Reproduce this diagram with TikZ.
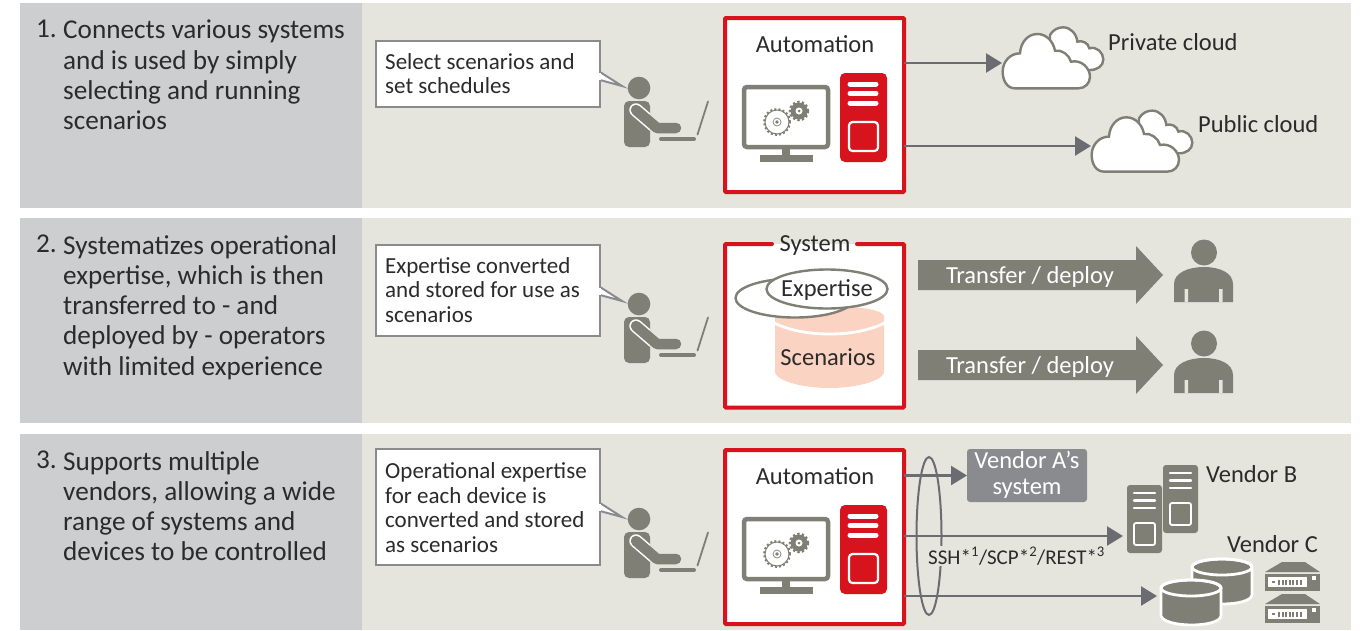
\documentclass[tikz,border=0pt]{standalone}
\usepackage{fontspec}
\setmainfont{Carlito}
\usetikzlibrary{arrows.meta}
\definecolor{leftbg}{HTML}{CDCED0}
\definecolor{rightbg}{HTML}{E5E4DD}
\definecolor{gr}{HTML}{7F7F75}
\definecolor{redb}{HTML}{D7141E}
\definecolor{arr}{HTML}{6A6C72}
\definecolor{calln}{HTML}{8A8B8E}
\definecolor{salmon}{HTML}{FBD3C2}
\definecolor{txt}{HTML}{2B2B2B}
\newcommand\fsz[2]{\fontsize{#1pt}{#2pt}\selectfont}
\tikzset{
  headtext/.style={anchor=north west,align=left,inner sep=0pt,text=txt,font=\fsz{27.2}{30.3}},
  calltext/.style={anchor=west,align=left,inner sep=0pt,text=txt,font=\fsz{23}{24.8}},
  callbox/.style={draw=calln,line width=2pt,fill=white,inner sep=0pt,outer sep=0pt,minimum width=224pt},
  redbox/.style={draw=redb,line width=4pt,fill=white,rounded corners=1pt,inner sep=0pt,outer sep=0pt,minimum width=179pt},
  lab/.style={inner sep=0pt,text=txt,font=\fsz{24.5}{26}},
  conn/.style={draw=arr,line width=2.4pt,-{Triangle[length=16pt,width=19pt,fill=arr]}},
  cloudline/.style={draw=gr,line width=2.4pt,fill=white},
  wtext/.style={inner sep=0pt,text=white,font=\fsz{24.5}{26}},
}
\newcommand\person[1]{\begin{scope}[shift={(0,#1)}]
  \fill[gr] (639,88) circle[radius=11.3pt];
  \fill[gr,rounded corners=5pt] (624,147) -- (624,101) -- (650,101) -- (650,147) -- cycle;
  \begin{scope}
    \clip (624,101) rectangle (650,147);
    \draw[white,line width=13.5pt,line cap=round,line join=round] (636,110) -- (657,128) -- (676,128);
  \end{scope}
  \draw[gr,line width=10.5pt,line cap=round,line join=round] (636,110) -- (657,128) -- (676,128);
  \draw[gr,line width=4pt,line cap=round] (661,139) -- (694,139);
  \draw[gr,line width=1.8pt,line cap=round] (697.5,134.5) -- (708,101.5);
\end{scope}}
\newcommand\automation[1]{\begin{scope}[shift={(0,#1)}]
  \draw[gr,line width=4.5pt,rounded corners=3pt] (744,87) rectangle (828,147);
  \fill[gr] (782,149) rectangle (790,156);
  \fill[gr] (760,155) rectangle (813,162);
  \draw[gr,line width=2pt,dash pattern=on 2pt off 2.2pt] (777,122) circle[radius=13pt];
  \draw[gr,line width=1pt] (777,122) circle[radius=12pt];
  \draw[gr,line width=.7pt] (777,122) circle[radius=4pt];
  \fill[gr] (777,122) circle[radius=1.8pt];
  \draw[gr,line width=2.5pt,dash pattern=on 2.3pt off 2.2pt] (799,111) circle[radius=9pt];
  \fill[gr] (799,111) circle[radius=8.5pt];
  \fill[white] (799,111) circle[radius=3.5pt];
  \fill[gr] (799,111) circle[radius=1.5pt];
  \fill[redb,rounded corners=5pt] (840,73) rectangle (887,162);
  \draw[white,line width=5pt,line cap=round] (850,84) -- (876,84) (850,93.5) -- (876,93.5) (850,103) -- (876,103);
  \draw[white,line width=2.2pt,rounded corners=3.5pt] (849,122) rectangle (878,151);
\end{scope}}
\newcommand\cloudpair[2]{\begin{scope}[shift={(#1,#2)},x=.3333pt,y=-.3333pt]
  \path[cloudline] (180,45) .. controls (190,28) and (205,22) .. (220,22) .. controls (242,22) and (260,42) .. (262,65) .. controls (275,60) and (295,68) .. (298,85) .. controls (320,78) and (340,98) .. (340,118) .. controls (340,138) and (322,150) .. (300,150) -- (180,150) -- cycle;
  \path[cloudline] (75,205) .. controls (50,205) and (38,180) .. (38,155) .. controls (38,125) and (60,100) .. (90,100) .. controls (92,65) and (115,42) .. (142,42) .. controls (170,42) and (190,65) .. (195,92) .. controls (215,88) and (238,105) .. (243,125) .. controls (275,118) and (300,145) .. (300,170) .. controls (300,190) and (285,205) .. (265,205) -- cycle;
\end{scope}}
\newcommand\bigarr[1]{\begin{scope}[shift={(0,#1)}]
  \fill[gr] (918,260) -- (1136,260) -- (1136,246) -- (1163,275) -- (1136,304) -- (1136,290) -- (918,290) -- cycle;
\end{scope}}
\newcommand\bust[1]{\begin{scope}[shift={(0,#1)}]
  \fill[gr] (1204,252.5) circle[radius=13pt];
  \fill[gr] (1174,302) -- (1174,284) .. controls (1174,273) and (1188,267) .. (1204,267) .. controls (1220,267) and (1233,273) .. (1233,284) -- (1233,302) -- cycle;
  \fill[rightbg] (1184.5,289) rectangle (1188,302) (1219,289) rectangle (1222.5,302);
\end{scope}}
\newcommand\srv[2]{\begin{scope}[shift={(#1,#2)}]
  \fill[gr,rounded corners=3pt] (0,0) rectangle (35,68);
  \draw[white,line width=2.3pt,line cap=round] (7,8) -- (28,8) (7,15.5) -- (28,15.5) (7,23) -- (28,23);
  \draw[white,line width=1.8pt,rounded corners=2pt] (7,38) rectangle (28,60);
\end{scope}}
\newcommand\disk[2]{\begin{scope}[shift={(#1,#2)}]
  \path[fill=gr,draw=white,line width=2.8pt] (0,8) -- (0,36) .. controls (4,48) and (58,48) .. (60,36) -- (60,8) arc[start angle=0,end angle=180,x radius=30pt,y radius=8pt];
  \draw[white,line width=2.8pt] (30,8) ellipse[x radius=30pt,y radius=8pt];
\end{scope}}
\newcommand\rackunit[2]{\begin{scope}[shift={(#1,#2)}]
  \fill[gr] (0,10) -- (17,0) -- (40,0) -- (55,10) -- cycle;
  \fill[gr] (0,11.5) rectangle (55,29);
  \fill[white] (3,15) rectangle (42,25);
  \fill[gr] (7,18.5) rectangle (10,21);
  \foreach \k in {0,...,6}{\fill[gr] (13+\k*3.6,17.5) rectangle (15+\k*3.6,23);}
  \fill[white] (47,14) rectangle (51,18);
\end{scope}}
\begin{document}
\begin{tikzpicture}[x=1pt,y=-1pt]
\useasboundingbox (0,0) rectangle (1366,630);
% panels
\fill[leftbg] (20,3) rectangle (362,208);
\fill[rightbg] (362,3) rectangle (1351,208);
\fill[leftbg] (20,218) rectangle (362,423);
\fill[rightbg] (362,218) rectangle (1351,423);
\fill[leftbg] (20,434) rectangle (362,630);
\fill[rightbg] (362,434) rectangle (1351,630);
% left headings
\node[headtext] (n1) at (36,20) {1.};
\node[headtext] (h1) at (63,20) {Connects various systems\\and is used by simply\\selecting and running\\scenarios};
\node[headtext] (n2) at (36,235) {2.};
\node[headtext] (h2) at (63,235) {Systematizes operational\\expertise, which is then\\transferred to - and\\deployed by - operators\\with limited experience};
\node[headtext] (n3) at (36,451) {3.};
\node[headtext] (h3) at (63,451) {Supports multiple\\vendors, allowing a wide\\range of systems and\\devices to be controlled};
% callouts
\node[callbox,minimum height=66pt] (c1) at (488,73.5) {};
\path[fill=white,draw=calln,line width=2pt,line join=miter] (600,72) -- (622,86) -- (600,80);
\fill[white] (598,72.5) rectangle (601,79.5);
\node[calltext] (c1t) at (385,73.5) {Select scenarios and\\set schedules};
\node[callbox,minimum height=91pt] (c2) at (488,290) {};
\path[fill=white,draw=calln,line width=2pt] (600,287) -- (622,301) -- (600,295);
\fill[white] (598,287.5) rectangle (601,294.5);
\node[calltext] (c2t) at (385,290) {Expertise converted\\and stored for use as\\scenarios};
\node[callbox,minimum height=116pt] (c3) at (488,507) {};
\path[fill=white,draw=calln,line width=2pt] (600,503) -- (622,517) -- (600,511);
\fill[white] (598,503.5) rectangle (601,510.5);
\node[calltext] (c3t) at (385,507.5) {Operational expertise\\for each device is\\converted and stored\\as scenarios};
% people
\person{0}\person{216}\person{431}
% connectors panel 1
\coordinate (privT) at (1002,63);
\coordinate (pubT) at (1091,146);
\node[redbox,minimum height=174pt] (autoA) at (814.5,105) {};
\draw[conn] (autoA.east |- privT) -- (privT);
\draw[conn] (autoA.east |- pubT) -- (pubT);
\node[lab] (autoAt) at (815,44) {Automation};
\automation{0}
\cloudpair{990}{20}
\cloudpair{1079}{103.3}
\node[lab,anchor=west] (priv) at (1108,42) {Private cloud};
\node[lab,anchor=west] (pub) at (1198,124) {Public cloud};
% panel 2
\node[fill=white,inner sep=0pt,outer sep=0pt,minimum width=179pt,minimum height=165pt] (sysB) at (814.5,326) {};
\draw[redb,line width=4pt,rounded corners=1pt,line cap=round] (772,244) -- (725,244) -- (725,407.5) -- (904,407.5) -- (904,244) -- (857,244);
\node[lab] (syst) at (815,246) {System};
% cylinder
\path[fill=salmon] (775,316) -- (775,373) .. controls (779,382) and (805,388) .. (829.5,388) .. controls (854,388) and (880,382) .. (884,373) -- (884,316) arc[start angle=0,end angle=180,x radius=54.5pt,y radius=10pt];
\draw[white,line width=2.8pt] (772,322) .. controls (790,331) and (810,334) .. (829.5,334) .. controls (849,334) and (869,331) .. (887,322);
\draw[gr,line width=2.4pt,fill=white] (795,298) ellipse[x radius=59.5pt,y radius=19.5pt];
\draw[gr,line width=2.4pt,fill=white] (827,289) ellipse[x radius=60.5pt,y radius=19.5pt];
\node[lab] (expt) at (827,290) {Expertise};
\node[lab] (scent) at (828,357) {Scenarios};
\bigarr{0}\bigarr{90}
\node[wtext] (t1) at (1030,276.5) {Transfer / deploy};
\node[wtext] (t2) at (1030,366.5) {Transfer / deploy};
\bust{0}\bust{91}
% panel 3
\node[redbox,minimum height=174pt] (autoC) at (814.5,537) {};
\node[fill=calln,rounded corners=3pt,minimum width=120pt,minimum height=53pt,inner sep=0pt,outer sep=0pt] (va) at (1027,475.5) {};
\coordinate (bT) at (1123,536);
\coordinate (cT) at (1157,596);
\draw[draw=arr,line width=2pt] (929,536) ellipse[x radius=12.5pt,y radius=79pt];
\draw[conn] (autoC.east |- va) -- (va.west);
\draw[conn] (autoC.east |- bT) -- (bT);
\draw[conn] (autoC.east |- cT) -- (cT);
\node[lab] (autoCt) at (815,476) {Automation};
\automation{432}
\node[wtext,align=center,font=\fsz{24.5}{25.5}] (vat) at (1027,475) {Vendor A’s\\system};
\srv{1163}{465}\srv{1127}{485}
\node[lab,anchor=west] (vb) at (1206,474) {Vendor B};
\node[lab,anchor=west] (vc) at (1227,544) {Vendor C};
\node[fill=rightbg,inner sep=1pt,text=txt,font=\fsz{21}{24},anchor=west] (proto) at (927,556) {SSH*\textsuperscript{1}/SCP*\textsuperscript{2}/REST*\textsuperscript{3}};
\disk{1192}{559}\disk{1161}{580}
\rackunit{1265}{562}\rackunit{1265}{594}
\end{tikzpicture}
\end{document}
